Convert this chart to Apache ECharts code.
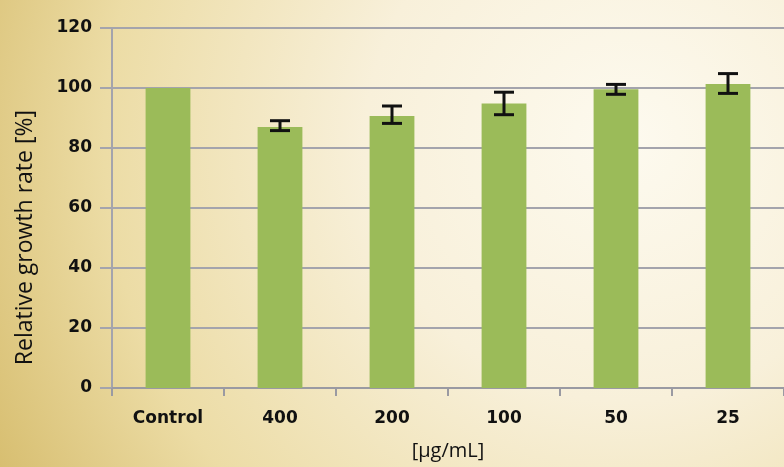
<!DOCTYPE html>
<html>
<head>
<meta charset="utf-8">
<script src="https://cdn.jsdelivr.net/npm/echarts@6/dist/echarts.min.js"></script>
<style>
html, body { margin: 0; padding: 0; }
#main { width: 784px; height: 467px; }
</style>
</head>
<body>
<div id="main"></div>
<script>
var categories = ['Control', '400', '200', '100', '50', '25'];
var growth = [100, 87, 90.7, 94.8, 99.6, 101.3];
var errLow = [null, 85.8, 88.2, 91.1, 97.9, 98.2];
var errHigh = [null, 89.1, 94.0, 98.6, 101.2, 104.8];
var yTicks = [0, 20, 40, 60, 80, 100, 120];

var myChart = echarts.init(document.getElementById('main'));

var errData = [];
for (var i = 0; i < categories.length; i++) {
    if (errLow[i] !== null) errData.push([i, errLow[i], errHigh[i]]);
}

var option = {
    backgroundColor: {
        type: 'radial', x: 0.8, y: 0.3, r: 1.6,
        colorStops: [
            { offset: 0, color: '#fdfaef' },
            { offset: 0.35, color: '#f8f0da' },
            { offset: 0.7, color: '#ecdca5' },
            { offset: 1, color: '#d3b865' }
        ]
    },
    grid: { left: 112, right: 0, top: 28, bottom: 79 },
    xAxis: {
        type: 'category',
        data: categories,
        name: '[µg/mL]',
        nameLocation: 'middle',
        nameGap: 53,
        nameTextStyle: { fontFamily: 'Open Sans', fontSize: 20, color: '#111' },
        axisLine: { lineStyle: { color: '#9a9aa2', width: 2 } },
        axisTick: { show: true, length: 8, lineStyle: { color: '#9a9aa2', width: 2 } },
        axisLabel: { margin: 22, fontFamily: 'DejaVu Sans', fontWeight: 'bold', fontSize: 17, color: '#111' }
    },
    yAxis: {
        type: 'value',
        min: yTicks[0],
        max: yTicks[yTicks.length - 1],
        interval: 20,
        axisLine: { show: true, lineStyle: { color: '#a4a4ac', width: 2 } },
        axisTick: { show: true, length: 12, lineStyle: { color: '#a4a4ac', width: 2 } },
        axisLabel: { margin: 20, fontFamily: 'DejaVu Sans', fontWeight: 'bold', fontSize: 17, color: '#111' },
        splitLine: { lineStyle: { color: '#a4a4ac', width: 2 } }
    },
    graphic: [{
        type: 'text',
        left: 14,
        top: 110,
        rotation: Math.PI / 2,
        style: {
            text: 'Relative growth rate [%]',
            fontFamily: 'Open Sans',
            fontSize: 23,
            fill: '#111'
        }
    }],
    series: [{
        name: 'growth',
        type: 'bar',
        data: growth,
        barWidth: '40%',
        itemStyle: { color: '#9bbb59' }
    }, {
        type: 'custom',
        data: errData,
        z: 10,
        renderItem: function (params, api) {
            var x = api.value(0);
            var lo = api.coord([x, api.value(1)]);
            var hi = api.coord([x, api.value(2)]);
            var half = 10;
            var st = { stroke: '#111', lineWidth: 3 };
            return {
                type: 'group',
                children: [
                    { type: 'line', shape: { x1: lo[0], y1: lo[1], x2: hi[0], y2: hi[1] }, style: st },
                    { type: 'line', shape: { x1: lo[0] - half, y1: lo[1], x2: lo[0] + half, y2: lo[1] }, style: st },
                    { type: 'line', shape: { x1: hi[0] - half, y1: hi[1], x2: hi[0] + half, y2: hi[1] }, style: st }
                ]
            };
        }
    }]
};

myChart.setOption(option);
</script>
</body>
</html>
